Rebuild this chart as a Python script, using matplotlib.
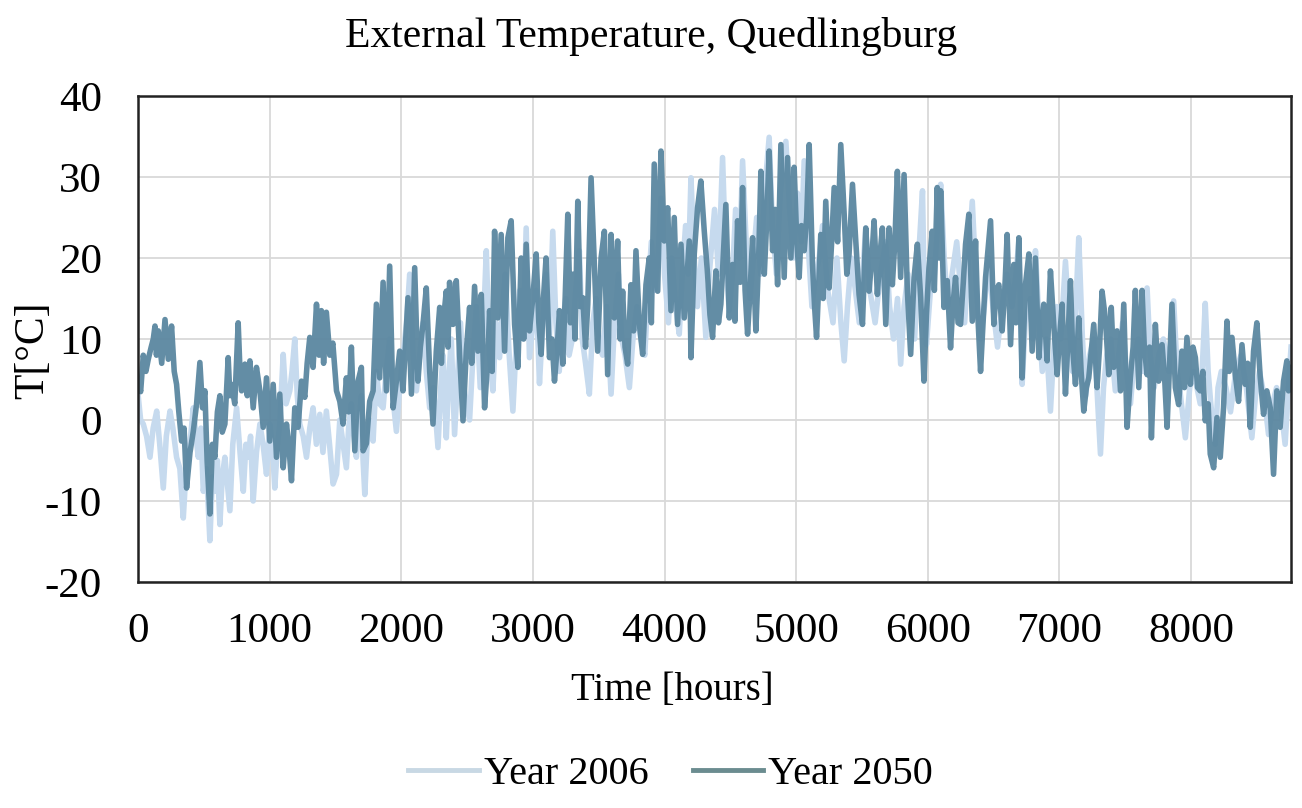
import matplotlib
matplotlib.use("Agg")
import matplotlib.pyplot as plt
from matplotlib.lines import Line2D

# hourly outdoor temperature as (hour, degC) pairs
pts_2006 = [
    (0, 3.2), (20, 0), (40, -0.5), (65, -2), (91, -4.6), (115, -1), (142, 1.1), (165, -3),
    (192, -8.4), (215, -2), (243, 1.1), (265, -1), (293, -4.6), (318, -6), (344, -12.1),
    (362, -7), (382, -4.6), (400, -2), (420, 1.5), (440, -2), (458, -4.6), (478, -1),
    (496, -8.8), (520, -6), (546, -14.9), (565, -7), (584, -8.8), (603, -5), (622, -12.9),
    (640, -7), (660, -4.6), (680, -8), (698, -11.2), (720, -3), (749, 1.5), (775, -4),
    (800, -8.8), (820, -3), (837, -4.6), (855, -2), (875, -10.0), (900, -4), (926, -0.5),
    (950, -3), (976, -6.7), (1001, -0.5), (1020, -3), (1039, -8.4), (1060, -3), (1077, -0.5),
    (1103, 8.1), (1125, 2), (1153, 3.6), (1170, 6), (1191, 10.0), (1210, 3), (1229, -0.5),
    (1255, -2), (1280, -4.6), (1305, -1), (1330, 1.5), (1355, -3), (1381, 0.7), (1405, -4),
    (1431, 1.1), (1455, -3), (1482, -7.9), (1508, -6.7), (1533, 0), (1558, -3), (1583, -5.9),
    (1600, -1), (1621, 2), (1640, -2), (1659, -4.6), (1680, 0), (1697, 3), (1710, -5),
    (1723, -9.2), (1740, -3), (1760, 0), (1786, -2.6), (1811, 6), (1835, 2), (1862, 1.5),
    (1885, 6), (1912, 10), (1935, 3), (1963, -1.4), (1988, 4), (2013, 8), (2040, 12),
    (2064, 18.0), (2090, 8), (2115, 3.6), (2140, 8), (2165, 12), (2190, 6), (2216, 1.5),
    (2245, 4), (2279, -3.4), (2300, 4), (2317, 8), (2342, -2.2), (2360, 5), (2380, 10),
    (2405, -1.8), (2430, 6), (2450, 12), (2475, 4), (2519, 0), (2545, 8), (2570, 14),
    (2600, 4), (2625, 12), (2646, 20.9), (2670, 8), (2696, 3.6), (2720, 12), (2747, 7.7),
    (2770, 14), (2790, 18), (2820, 8), (2848, 1.1), (2875, 10), (2900, 16), (2925, 10),
    (2949, 23.7), (2974, 7.7), (3000, 12), (3025, 16), (3050, 4.5), (3075, 12), (3100, 18),
    (3125, 10), (3151, 23.3), (3175, 12), (3200, 6), (3225, 12), (3250, 15), (3275, 8),
    (3300, 10), (3325, 16), (3353, 20.9), (3375, 10), (3400, 7), (3429, 3.2), (3455, 12),
    (3480, 15), (3505, 9), (3530, 8), (3560, 14), (3594, 3.2), (3620, 12), (3650, 18),
    (3675, 10), (3700, 8), (3733, 4.0), (3760, 10), (3790, 14), (3820, 10), (3850, 8),
    (3875, 16), (3900, 22), (3925, 16), (3950, 20), (3973, 27.4), (4000, 18), (4030, 12),
    (4055, 20), (4085, 14), (4112, 10.6), (4135, 18), (4160, 24), (4180, 18), (4201, 29.9),
    (4225, 20), (4250, 14), (4280, 20), (4314, 10.2), (4340, 18), (4360, 22), (4380, 26),
    (4410, 18), (4441, 32.4), (4465, 20), (4491, 13.5), (4517, 18), (4540, 26), (4570, 20),
    (4593, 32.0), (4620, 22), (4650, 15), (4675, 20), (4700, 25), (4730, 18), (4760, 28),
    (4795, 34.9), (4820, 24), (4850, 18), (4880, 28), (4922, 34.4), (4950, 26), (4980, 20),
    (5010, 28), (5040, 22), (5061, 32.0), (5090, 22), (5120, 14), (5150, 18), (5175, 20),
    (5200, 24), (5240, 16), (5280, 12), (5310, 20), (5340, 12), (5365, 7.3), (5390, 14),
    (5420, 20), (5450, 16), (5480, 12), (5505, 18), (5529, 23.7), (5560, 16), (5600, 12),
    (5640, 18), (5680, 22), (5710, 14), (5740, 10), (5770, 15), (5794, 6.9), (5820, 14),
    (5850, 18), (5875, 12), (5900, 10), (5930, 20), (5960, 28.3), (5975, 14), (5990, 9.3),
    (6020, 16), (6050, 18), (6075, 24), (6098, 29.1), (6125, 20), (6150, 14), (6185, 18),
    (6220, 22), (6250, 16), (6280, 12), (6310, 20), (6338, 27.0), (6370, 16), (6400, 10),
    (6430, 14), (6460, 20), (6495, 14), (6530, 9), (6565, 14), (6600, 18), (6640, 14),
    (6670, 18), (6692, 22.1), (6717, 4.4), (6740, 12), (6780, 15), (6800, 10), (6818, 20.9),
    (6845, 12), (6870, 6), (6900, 10), (6932, 1.1), (6955, 8), (6980, 14), (7010, 10),
    (7046, 19.6), (7075, 12), (7100, 6), (7125, 14), (7147, 22.5), (7175, 10), (7200, 3),
    (7230, 8), (7260, 10), (7285, 4), (7312, -4.2), (7335, 4), (7360, 8), (7390, 10),
    (7425, 3.6), (7450, 8), (7480, 12), (7510, 6), (7540, 2), (7570, 8), (7600, 10),
    (7635, 6), (7666, 16.3), (7690, 8), (7720, 4), (7755, 8), (7790, 10), (7830, 6),
    (7868, 14.7), (7895, 6), (7920, 3), (7957, -2.2), (7990, 4), (8020, 6), (8045, 4),
    (8070, 2), (8090, 8), (8108, 14.4), (8130, 6), (8150, 2), (8184, -3.0), (8205, 4),
    (8230, 6), (8265, 4), (8300, 1), (8340, 6), (8380, 8), (8420, 4), (8462, -2.2),
    (8490, 3), (8520, 6), (8555, 3), (8589, -1.8), (8620, 2), (8650, 4), (8680, 2),
    (8715, -3.0), (8740, 4), (8760, 9),
]

pts_2050 = [
    (0, 5), (20, 3.5), (40, 8), (60, 6), (78, 7.5), (100, 9), (116, 10), (129, 11.6),
    (140, 8), (154, 11), (180, 7), (205, 12.4), (230, 7.5), (255, 11.6), (275, 6), (293, 4.4),
    (310, 1), (331, -2.6), (350, -1), (369, -8.4), (395, -4), (420, -1.4), (445, 2),
    (470, 7.1), (490, 1.5), (508, 3.6), (525, -5), (546, -11.6), (565, -3), (584, -4.6),
    (603, 1), (622, 3.0), (640, -1.5), (660, -0.5), (685, 7.7), (698, 3), (711, 4.4),
    (735, 2), (761, 12.0), (775, 6), (787, 3.6), (812, 6.9), (830, 3), (850, 7.3), (875, 1.5),
    (900, 6.5), (926, 3.6), (951, -0.9), (976, 5.2), (1001, -2.6), (1027, 4.4), (1052, -4.6),
    (1077, 3.2), (1103, -5.9), (1128, -0.5), (1145, -3), (1166, -7.5), (1191, 1.5),
    (1216, -0.9), (1242, 4.8), (1267, 2.8), (1285, 7), (1305, 10.2), (1330, 6.5), (1356, 14.3),
    (1375, 8), (1393, 13.5), (1410, 7), (1431, 13.3), (1457, 8), (1480, 9.5), (1508, 3.6),
    (1533, 2.3), (1558, -0.5), (1583, 5.2), (1600, 1), (1621, 9.0), (1647, -3.8), (1672, 4.8),
    (1697, 6.5), (1710, -3.8), (1735, -2.9), (1760, 2.3), (1786, 3.6), (1811, 14.3),
    (1836, 5.2), (1862, 17.0), (1887, 3.6), (1912, 19.0), (1938, 1.5), (1963, 4.8),
    (1988, 8.5), (2013, 3.6), (2051, 15.1), (2077, 3.2), (2102, 18.8), (2127, 4.8), (2145, 9),
    (2165, 11.8), (2190, 16.3), (2216, 6.0), (2241, -0.5), (2266, 8.5), (2292, 13.9),
    (2305, 7), (2317, 11.8), (2342, 15.9), (2355, 9), (2367, 17.0), (2393, 11.8), (2418, 17.2),
    (2443, 8.1), (2469, -0.1), (2494, 8.5), (2519, 13.9), (2535, 7), (2557, 16.5), (2582, 8.5),
    (2608, 15.5), (2633, 1.5), (2658, 7.7), (2671, 13.5), (2690, 6), (2709, 23.3),
    (2734, 12.6), (2759, 22.9), (2785, 8.5), (2810, 22.5), (2835, 24.6), (2861, 11.8),
    (2886, 6.5), (2911, 20.0), (2930, 10), (2949, 21.7), (2974, 11.0), (2999, 15),
    (3025, 20.5), (3045, 12), (3063, 8.1), (3080, 15), (3100, 20.0), (3126, 7.7), (3145, 10),
    (3164, 4.8), (3185, 9), (3202, 13.5), (3227, 6.9), (3245, 15), (3265, 25.4), (3285, 12),
    (3303, 18.0), (3320, 10), (3341, 27.0), (3360, 14), (3379, 15.1), (3400, 9), (3417, 14.3),
    (3442, 29.9), (3467, 19.2), (3492, 8.5), (3518, 20.0), (3543, 23.3), (3568, 5.6),
    (3594, 22.9), (3619, 12.6), (3644, 22.1), (3663, 10), (3682, 15.9), (3700, 9), (3720, 6.9),
    (3745, 16.7), (3765, 11), (3783, 20.9), (3809, 11.8), (3834, 8.1), (3859, 16.7),
    (3884, 20.0), (3900, 12), (3922, 31.6), (3948, 15.9), (3973, 33.2), (3998, 22.1),
    (4024, 26.2), (4049, 13.5), (4074, 25.0), (4099, 11.8), (4125, 21.7), (4150, 12.6),
    (4188, 22.1), (4201, 7.7), (4226, 20.5), (4251, 26.2), (4276, 29.5), (4302, 23.3),
    (4327, 18.0), (4345, 13), (4365, 10.2), (4390, 18.4), (4410, 12), (4428, 14.3),
    (4466, 26.6), (4492, 12.6), (4517, 19.2), (4535, 12.2), (4555, 24.6), (4575, 17),
    (4593, 28.7), (4612, 16), (4631, 10.6), (4650, 16), (4669, 22.5), (4694, 11.0), (4715, 20),
    (4732, 30.7), (4758, 18.0), (4775, 24), (4795, 33.2), (4821, 20.9), (4840, 26),
    (4859, 16.7), (4884, 34.0), (4909, 17.6), (4935, 32.4), (4960, 20.0), (4985, 31.2),
    (5005, 22), (5023, 17.6), (5040, 24), (5061, 20.9), (5080, 25), (5099, 34.0), (5124, 19.2),
    (5140, 14), (5155, 10.2), (5170, 16), (5187, 22.9), (5205, 15), (5225, 27.0), (5251, 16.3),
    (5270, 22), (5289, 28.7), (5315, 22), (5339, 34.0), (5365, 25.4), (5385, 18), (5402, 20.5),
    (5428, 29.1), (5453, 22.1), (5478, 15.5), (5504, 11.8), (5529, 23.7), (5554, 15.9),
    (5575, 20), (5592, 24.6), (5617, 15.5), (5635, 20), (5655, 23.7), (5681, 11.8),
    (5706, 23.7), (5731, 16.7), (5750, 22), (5769, 30.7), (5794, 17.6), (5820, 30.3),
    (5845, 15.9), (5870, 8.1), (5896, 17.6), (5921, 21.7), (5946, 15.1), (5971, 4.8),
    (5990, 13), (6009, 18.8), (6034, 23.3), (6050, 16), (6072, 28.7), (6085, 20), (6098, 28.3),
    (6123, 13.9), (6148, 17.2), (6173, 8.9), (6190, 14), (6211, 17.6), (6230, 12), (6249, 11.8),
    (6270, 17), (6287, 21.7), (6312, 25.4), (6338, 12.2), (6363, 22.1), (6380, 13), (6401, 6.0),
    (6420, 12), (6439, 17.6), (6477, 24.6), (6502, 11.8), (6520, 16), (6540, 16.7),
    (6565, 11.0), (6585, 16), (6603, 22.9), (6629, 9.3), (6654, 19.2), (6670, 12), (6692, 22.5),
    (6717, 5.2), (6742, 16.7), (6768, 20.5), (6793, 8.5), (6818, 20.0), (6844, 7.7), (6860, 12),
    (6881, 14.3), (6907, 7.3), (6932, 18.4), (6957, 11.8), (6983, 5.6), (7000, 10), (7021, 14.3),
    (7046, 3.2), (7065, 10), (7084, 17.2), (7100, 9), (7122, 4.4), (7147, 12.6), (7165, 6),
    (7185, 1.1), (7205, 4), (7223, 5.2), (7261, 11.8), (7286, 4.0), (7305, 9), (7324, 15.9),
    (7349, 12.6), (7375, 5.6), (7394, 13.9), (7413, 6.5), (7438, 11.0), (7464, 3.6),
    (7489, 14.3), (7514, -0.9), (7539, 5.2), (7560, 9), (7577, 16.0), (7603, 4.0), (7628, 16.0),
    (7645, 9), (7666, 5.6), (7685, 9), (7699, -2.2), (7715, 5), (7729, 11.8), (7754, 4.8),
    (7780, 9.3), (7800, 5), (7818, -0.9), (7835, 6), (7855, 14.3), (7881, 4.0), (7906, 1.9),
    (7931, 8.5), (7950, 4), (7969, 10.2), (7995, 4.4), (8015, 9), (8033, 7.7), (8050, 4),
    (8070, 3.6), (8090, 6), (8108, -0.1), (8130, 2), (8146, -4.2), (8172, -5.9), (8197, 0.3),
    (8222, -4.6), (8247, 1.5), (8273, 12.2), (8290, 6), (8311, 10.2), (8336, 5.6), (8361, 2.3),
    (8387, 9.3), (8412, 4.4), (8430, 7), (8450, -0.9), (8475, 8.5), (8500, 12.0), (8526, 5.2),
    (8551, 0.7), (8576, 3.6), (8602, 1.5), (8627, -6.7), (8652, 3.6), (8677, -0.9),
    (8703, 4.8), (8728, 7.3), (8741, 3.6), (8760, 6.5),
]

hours_2006, temp_2006 = zip(*pts_2006)
hours_2050, temp_2050 = zip(*pts_2050)

x_ticks = [0, 1000, 2000, 3000, 4000, 5000, 6000, 7000, 8000]
y_ticks = [-20, -10, 0, 10, 20, 30, 40]

col_2006 = "#c6daee"
col_2050 = "#5b87a0"

plt.rcParams['font.family'] = ['Liberation Serif', 'DejaVu Serif']
plt.rcParams['axes.unicode_minus'] = False

fig = plt.figure(figsize=(13.02, 8.08), dpi=100)
ax = fig.add_axes([0.106, 0.2797, 0.8856, 0.6015])

ax.plot(hours_2006, temp_2006, color=col_2006, lw=4.0)
ax.plot(hours_2050, temp_2050, color=col_2050, lw=4.0, alpha=0.95)

ax.set_xlim(0, 8760)
ax.set_ylim(-20, 40)
ax.set_xticks(x_ticks)
ax.set_yticks(y_ticks)
ax.grid(color="#d9d9d9", lw=1.3)
ax.set_axisbelow(True)
ax.tick_params(length=0, labelsize=31)
ax.tick_params(axis="x", pad=22)
ax.tick_params(axis="y", pad=26)
for s in ax.spines.values():
    s.set_linewidth(1.8)
    s.set_color("#222222")

fig.text(0.5, 0.955, "External Temperature, Quedlingburg", ha="center", va="center", fontsize=30)
fig.text(0.516, 0.146, "Time [hours]", ha="center", va="center", fontsize=28)
fig.text(0.025, 0.567, "T[°C]", ha="center", va="center", rotation=90, fontsize=30)

handles = [Line2D([], [], color="#c8d8e4", lw=3.5), Line2D([], [], color="#6b8c90", lw=3.5)]
fig.legend(handles, ["Year 2006", "Year 2050"], loc="center", bbox_to_anchor=(0.515, 0.041),
           ncol=2, frameon=False, fontsize=29, handlelength=1.75, handletextpad=0.12,
           columnspacing=1.1)

fig.savefig("out.png", dpi=100)
